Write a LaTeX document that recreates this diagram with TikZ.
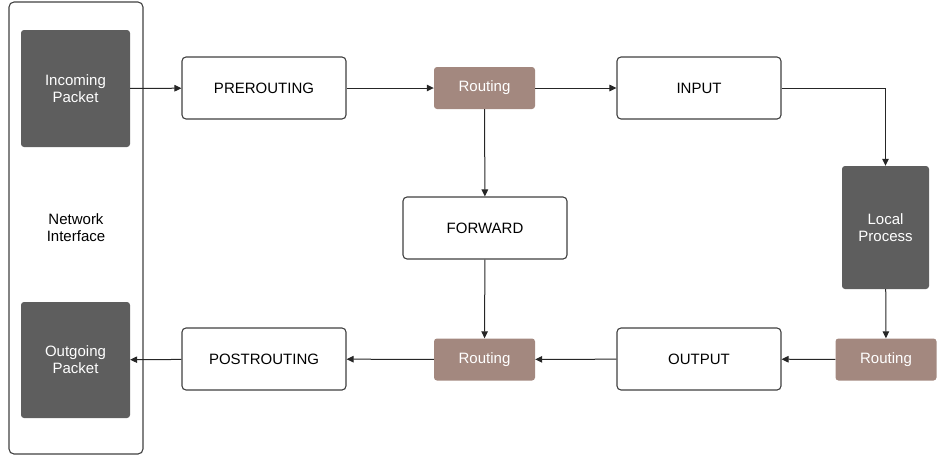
\documentclass[tikz,border=0pt]{standalone}
\usepackage{fontspec}
\setmainfont{Liberation Sans}
\usepackage{xcolor}
\definecolor{slate}{RGB}{94,94,94}
\definecolor{taupe}{RGB}{163,136,127}
\usepackage{tikz}
\usetikzlibrary{positioning}
\usetikzlibrary{arrows.meta}

\begin{document}
\begin{tikzpicture}[x=1pt,y=-1pt,font=\fontsize{15}{17}\selectfont,
  hook/.style={draw=black!75,line width=1.1pt,rounded corners=4pt,fill=white,minimum width=164pt,minimum height=62pt,inner sep=0pt},
  packet/.style={fill=slate,rounded corners=3pt,text=white,align=center,inner sep=0pt},
  routing/.style={fill=taupe,rounded corners=3pt,text=white,minimum width=101pt,minimum height=42pt,inner sep=0pt},
  flow/.style={-{Triangle[length=7pt,width=6.5pt]},line width=1pt,draw=black!85}]
\useasboundingbox (0,0) rectangle (946,459);
% network interface side
\node (netIf) at (76,228) [draw=black!75,line width=1.1pt,rounded corners=5pt,minimum width=134pt,minimum height=452pt,inner sep=0pt,align=center]{Network\\Interface};
\node (inPkt) at (75.5,88.5) [packet,minimum width=109pt,minimum height=117pt]{Incoming\\Packet};
\node (outPkt) at (75.5,360) [packet,minimum width=109pt,minimum height=116pt]{Outgoing\\Packet};
% hooks
\node (preRoute) at (264,88) [hook]{PREROUTING};
\node (input) at (699,88) [hook]{INPUT};
\node (forward) at (485,228) [hook]{FORWARD};
\node (output) at (699,359) [hook]{OUTPUT};
\node (postRoute) at (264,359) [hook]{POSTROUTING};
% routing decisions
\node (routeIn) at (484.5,88) [routing]{Routing};
\node (routeMid) at (484.5,359.5) [routing]{Routing};
\node (routeOut) at (886,359.5) [routing]{Routing};
\node (localProc) at (885.5,227.5) [packet,minimum width=87pt,minimum height=123pt]{Local\\Process};
% packet flow
\draw[flow] (inPkt) -- (preRoute);
\draw[flow] (preRoute) -- (routeIn);
\draw[flow] (routeIn) -- (input);
\draw[flow] (routeIn) -- (forward);
\draw[flow] (input.east) -| (localProc.north);
\draw[flow] (localProc) -- (routeOut);
\draw[flow] (routeOut) -- (output);
\draw[flow] (forward) -- (routeMid);
\draw[flow] (output) -- (routeMid);
\draw[flow] (routeMid) -- (postRoute);
\draw[flow] (postRoute) -- (outPkt);
\end{tikzpicture}
\end{document}
